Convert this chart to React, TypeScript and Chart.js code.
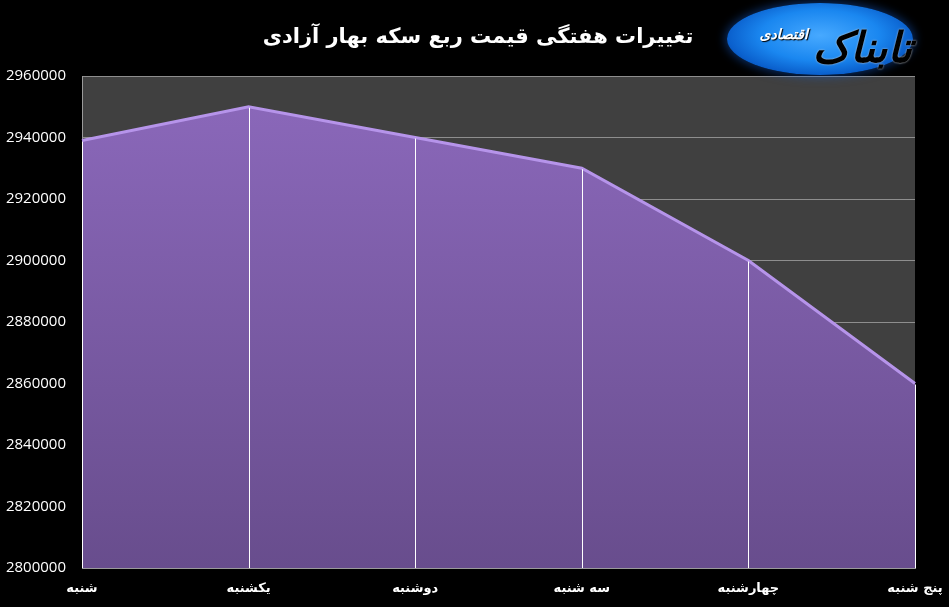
import React, { useEffect, useRef } from "react";
import { Chart, registerables } from "chart.js";

Chart.register(...registerables);

const TITLE = "تغییرات هفتگی قیمت ربع سکه بهار آزادی";
const categories = ["شنبه", "یکشنبه", "دوشنبه", "سه شنبه", "چهارشنبه", "پنج شنبه"];
const prices = [2939000, 2950000, 2940000, 2930000, 2900000, 2860000];
const yMin = 2800000;
const yMax = 2960000;
const yStep = 20000;

const W = 949;
const H = 607;

const plotBg = {
  id: "plotBg",
  beforeDraw(chart: any) {
    const { ctx, chartArea } = chart;
    if (!chartArea) return;
    ctx.save();
    ctx.fillStyle = "#404040";
    ctx.fillRect(chartArea.left, chartArea.top, chartArea.right - chartArea.left, chartArea.bottom - chartArea.top);
    ctx.restore();
  },
};

const dropLines = {
  id: "dropLines",
  afterDatasetsDraw(chart: any) {
    const { ctx, chartArea } = chart;
    const meta = chart.getDatasetMeta(0);
    ctx.save();
    ctx.strokeStyle = "#ffffff";
    ctx.lineWidth = 1;
    meta.data.forEach((pt: any) => {
      const x = Math.round(pt.x) + 0.5;
      ctx.beginPath();
      ctx.moveTo(x, pt.y + 1);
      ctx.lineTo(x, chartArea.bottom);
      ctx.stroke();
    });
    ctx.restore();
  },
};

export default function App() {
  const ref = useRef<HTMLCanvasElement | null>(null);

  useEffect(() => {
    document.body.style.margin = "0";
    document.body.style.background = "#000";
    const canvas = ref.current;
    if (!canvas) return;
    const chart = new Chart(canvas, {
      type: "line",
      data: {
        labels: categories,
        datasets: [
          {
            data: prices,
            fill: "start",
            borderColor: "#b694ea",
            borderWidth: 3,
            pointRadius: 0,
            tension: 0,
            backgroundColor: (c: any) => {
              const area = c.chart.chartArea;
              if (!area) return "#7a5aa6";
              const g = c.chart.ctx.createLinearGradient(0, area.top, 0, area.bottom);
              g.addColorStop(0, "#8c69bc");
              g.addColorStop(1, "#684d8d");
              return g;
            },
          },
        ],
      },
      options: {
        animation: false,
        responsive: false,
        maintainAspectRatio: false,
        layout: { padding: { left: 0, right: 34, top: 76, bottom: 0 } },
        plugins: {
          legend: { display: false },
          tooltip: { enabled: false },
          title: { display: false },
        },
        scales: {
          x: {
            offset: false,
            grid: { display: false, drawTicks: false },
            border: { display: true, color: "#9a9a9a", width: 1 },
            ticks: {
              color: "#ffffff",
              padding: 13,
              maxRotation: 0,
              autoSkip: false,
              font: { family: "DejaVu Sans", size: 13, weight: "bold" },
            },
            afterFit: (s: any) => {
              s.height = 39;
              s.paddingLeft = 0;
              s.paddingRight = 0;
            },
          },
          y: {
            min: yMin,
            max: yMax,
            grid: { color: "#8e8e8e", lineWidth: 1, drawTicks: false },
            border: { display: true, color: "#9a9a9a", width: 1 },
            ticks: {
              stepSize: yStep,
              color: "#ffffff",
              padding: 16,
              font: { family: "Open Sans", size: 15 },
              callback: (v: any) => String(v),
            },
            afterFit: (s: any) => {
              s.width = 82;
            },
          },
        },
      },
      plugins: [plotBg, dropLines],
    });
    return () => chart.destroy();
  }, []);

  return (
    <div style={{ position: "fixed", left: 0, top: 0, width: W, height: H, background: "#000", overflow: "hidden" }}>
      <canvas ref={ref} width={W} height={H} style={{ position: "absolute", left: 0, top: 0, width: W, height: H }} />
      <div
        dir="rtl"
        style={{
          position: "absolute",
          left: 0,
          top: 18,
          width: 956,
          textAlign: "center",
          color: "#fff",
          fontFamily: "DejaVu Sans",
          fontWeight: "bold",
          fontSize: 21,
          lineHeight: "36px",
        }}
      >
        {TITLE}
      </div>
      <div
        style={{
          position: "absolute",
          left: 727,
          top: 3,
          width: 186,
          height: 72,
          borderRadius: "50%",
          background: "radial-gradient(ellipse at 50% 45%, #47a9ff 0%, #1a87f0 45%, #0a5fcc 70%, #04306e 88%, rgba(0,0,0,0) 100%)",
          boxShadow: "0 0 10px 2px rgba(20,90,200,0.5)",
        }}
      />
      <div
        dir="rtl"
        style={{
          position: "absolute",
          left: 740,
          top: 20,
          width: 172,
          height: 56,
          color: "#000",
          fontFamily: "DejaVu Sans",
          fontWeight: "bold",
          fontStyle: "italic",
          fontSize: 42,
          lineHeight: "56px",
          textAlign: "right",
          textShadow: "0 0 2px #ccc",
          whiteSpace: "nowrap",
        }}
      >
        تابناک
        <span style={{ fontSize: 14, color: "#fff", textShadow: "1px 1px 1px #000", verticalAlign: "top", lineHeight: "28px" }}> اقتصادی</span>
      </div>
    </div>
  );
}
